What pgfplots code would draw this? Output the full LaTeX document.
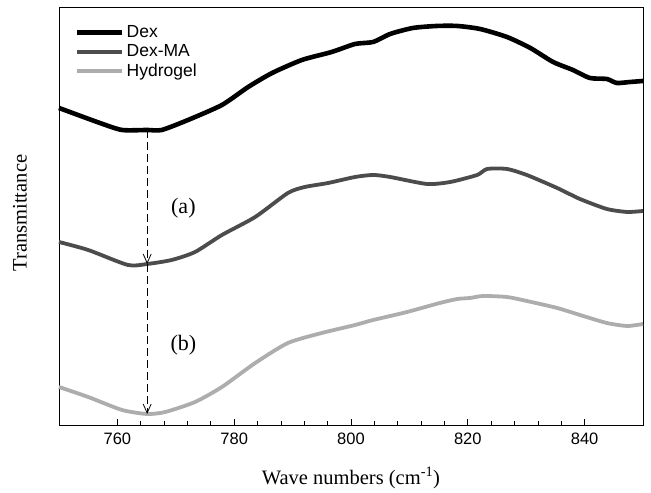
\documentclass[border=0pt]{standalone}
\usepackage{fontspec}
\setmainfont{Liberation Serif}
\newfontfamily\arialfont{Liberation Sans}
\usepackage{pgfplots}
\pgfplotsset{compat=1.18}
\usetikzlibrary{arrows.meta}

\definecolor{dexma}{gray}{0.30}
\definecolor{hydro}{gray}{0.68}

\begin{document}
\begin{tikzpicture}
\begin{axis}[
  scale only axis,
  width=584pt, height=418pt,
  xmin=750, xmax=850, ymin=0, ymax=418,
  axis line style={line width=0.8pt},
  xtick={760,780,800,820,840},
  minor x tick num=4,
  ytick=\empty,
  xtick pos=bottom,
  tick align=inside,
  major tick length=6pt,
  minor tick length=3.5pt,
  tick style={black, line width=0.7pt},
  /pgf/number format/assume math mode=true,
  /pgf/number format/1000 sep={},
  xticklabel style={font=\arialfont\fontsize{16.5}{19}\selectfont, yshift=-4pt},
  xlabel={Wave numbers (cm\textsuperscript{-1})},
  ylabel={Transmittance},
  label style={font=\fontsize{20.5}{24}\selectfont},
  xlabel style={at={(axis description cs:0.5,-0.127)}, anchor=center},
  ylabel style={at={(axis description cs:-0.067,0.507)}, anchor=center},
  legend style={draw=none, fill=none, at={(axis description cs:0.022,0.965)}, anchor=north west,
    font=\arialfont\fontsize{17.5}{20}\selectfont, row sep=1.5pt,
    /tikz/every even column/.append style={column sep=5pt}},
  legend cell align=left,
  legend image code/.code={\draw[#1] (0pt,0pt) -- (45pt,0pt);},
  clip=false,
]
% bounding frame of the figure
\path (axis description cs:-0.101,-0.161) rectangle (axis description cs:1.0137,1.0167);

% Dex
\addplot[black, line width=4.6pt, line join=round, smooth, tension=0.4] coordinates {
(750.0,317) (757.0,302) (760.8,295) (765.1,295) (767.6,295) (772.1,305)
(777.9,320) (782.4,338) (786.5,352) (791.6,365) (796.7,373) (800.7,381)
(803.8,383) (806.7,391) (810.6,397) (814.7,399) (818.2,399) (822.1,396)
(826.7,388) (830.7,377) (834.6,363) (838.0,355) (840.9,347) (843.8,346)
(845.5,342) (847.8,343) (850.0,344)
};
\addlegendentry{Dex}

% Dex-MA
\addplot[dexma, line width=3.8pt, line join=round, smooth, tension=0.4] coordinates {
(750.0,183) (755.0,175) (761.8,160) (765.1,161) (769.3,165) (773.3,173)
(777.9,190) (783.6,208) (789.2,232) (792.1,238) (796.1,242) (800.7,248)
(803.8,250) (806.7,248) (813.0,241) (817.0,243) (821.6,250) (823.3,256)
(826.7,256) (830.1,250) (835.3,237) (839.2,226) (843.8,216) (847.3,213)
(850.0,214)
};
\addlegendentry{Dex-MA}

% Hydrogel
\addplot[hydro, line width=3.8pt, line join=round, smooth, tension=0.4] coordinates {
(750.0,38) (755.0,28) (760.8,15) (765.1,11) (768.2,13) (773.3,23)
(777.9,38) (783.6,62) (789.2,82) (795.0,92) (800.7,100) (803.8,105)
(809.6,113) (815.2,122) (818.2,126) (820.4,127) (822.6,129) (826.7,128)
(830.1,124) (835.3,117) (839.2,110) (843.8,102) (847.3,99) (850.0,101)
};
\addlegendentry{Hydrogel}

% shift annotations
\draw[line width=0.8pt, dash pattern=on 8pt off 4pt, -{Straight Barb[length=9pt, width=8pt, line width=0.8pt]}]
  (axis cs:765.1,295) -- (axis cs:765.1,161);
\draw[line width=0.8pt, dash pattern=on 8pt off 4pt, -{Straight Barb[length=9pt, width=8pt, line width=0.8pt]}]
  (axis cs:765.1,161) -- (axis cs:765.1,11);
\node[font=\fontsize{22}{26}\selectfont] at (axis cs:771.3,217) {(a)};
\node[font=\fontsize{22}{26}\selectfont] at (axis cs:771.3,80) {(b)};
\end{axis}
\end{tikzpicture}
\end{document}
